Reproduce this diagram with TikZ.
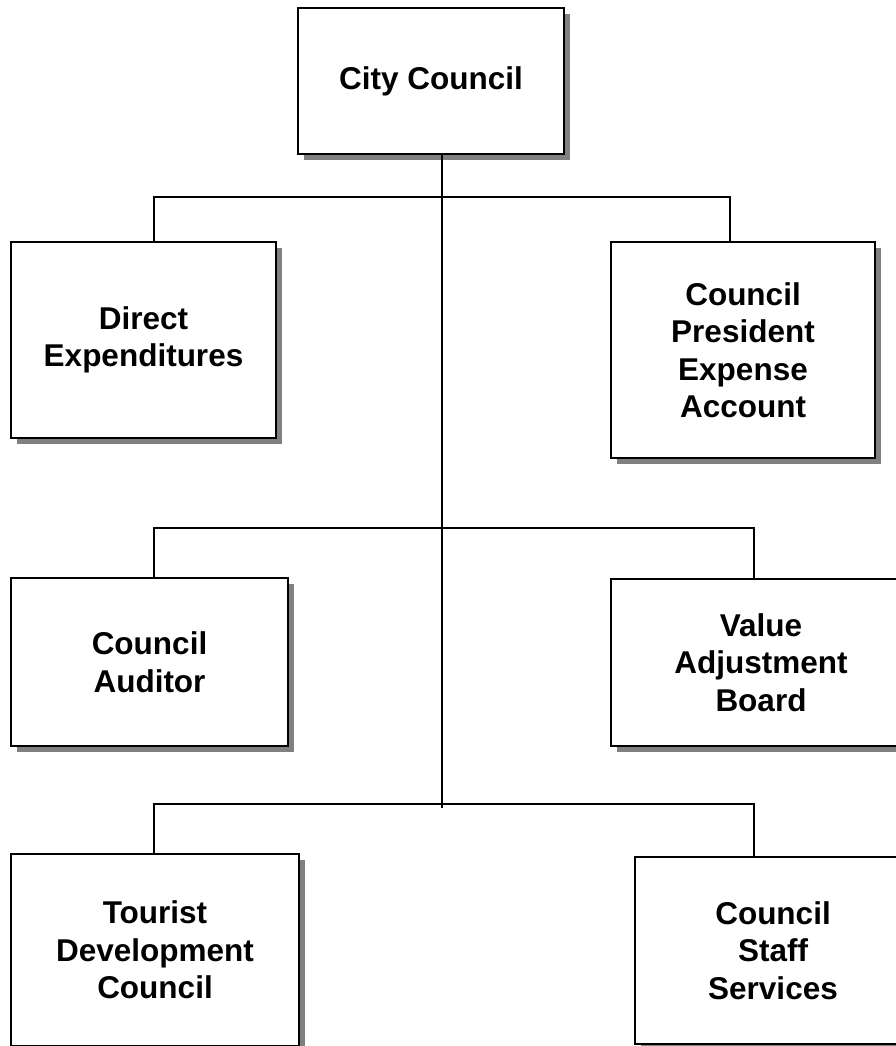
\documentclass[tikz,border=0pt]{standalone}
\usepackage{fontspec}
\setmainfont{Liberation Sans}
\usepackage{tikz}
\usetikzlibrary{shadows}
\usepackage{xcolor}

\begin{document}
\begin{tikzpicture}[x=1pt,y=-1pt,
unit/.style={draw,rectangle,line width=2pt,fill=white,anchor=north west,
  align=center,font=\fontsize{31.5}{37.5}\selectfont\bfseries,
  drop shadow={shadow xshift=6pt,shadow yshift=-6pt,fill=gray,opacity=1}},
link/.style={line width=2pt}]
%\tikzstyle{every node}=[draw]
\useasboundingbox (0,0) rectangle (896,1046);

\node[unit,minimum width=266pt,minimum height=146pt] (council) at (297,7) {City Council};
\node[unit,minimum width=265pt,minimum height=196pt] (direct) at (10,241) {Direct\\Expenditures};
\node[unit,minimum width=264pt,minimum height=216pt] (president) at (610,241) {Council\\President\\Expense\\Account};
\node[unit,minimum width=277pt,minimum height=168pt] (auditor) at (10,577) {Council\\Auditor};
\node[unit,minimum width=300pt,minimum height=167pt] (value) at (610,578) {Value\\Adjustment\\Board};
\node[unit,minimum width=288pt,minimum height=192pt] (tourist) at (10,853) {Tourist\\Development\\Council};
\node[unit,minimum width=276pt,minimum height=187pt] (staff) at (634,856) {Council\\Staff\\Services};

% trunk and branches
\coordinate (t1) at (442,197);
\coordinate (t2) at (442,528);
\coordinate (t3) at (442,804);
\coordinate (trunkend) at (442,808);
\draw[link] (council.south -| trunkend) -- (trunkend);
\draw[link] (direct.north -| 154,0) -- (154,197) -- (t1);
\draw[link] (t1) -- (730,197) -- (president.north -| 730,0);
\draw[link] (auditor.north -| 154,0) -- (154,528) -- (t2) -- (754,528) -- (value.north -| 754,0);
\draw[link] (tourist.north -| 154,0) -- (154,804) -- (t3) -- (754,804) -- (staff.north -| 754,0);
\end{tikzpicture}
\end{document}
